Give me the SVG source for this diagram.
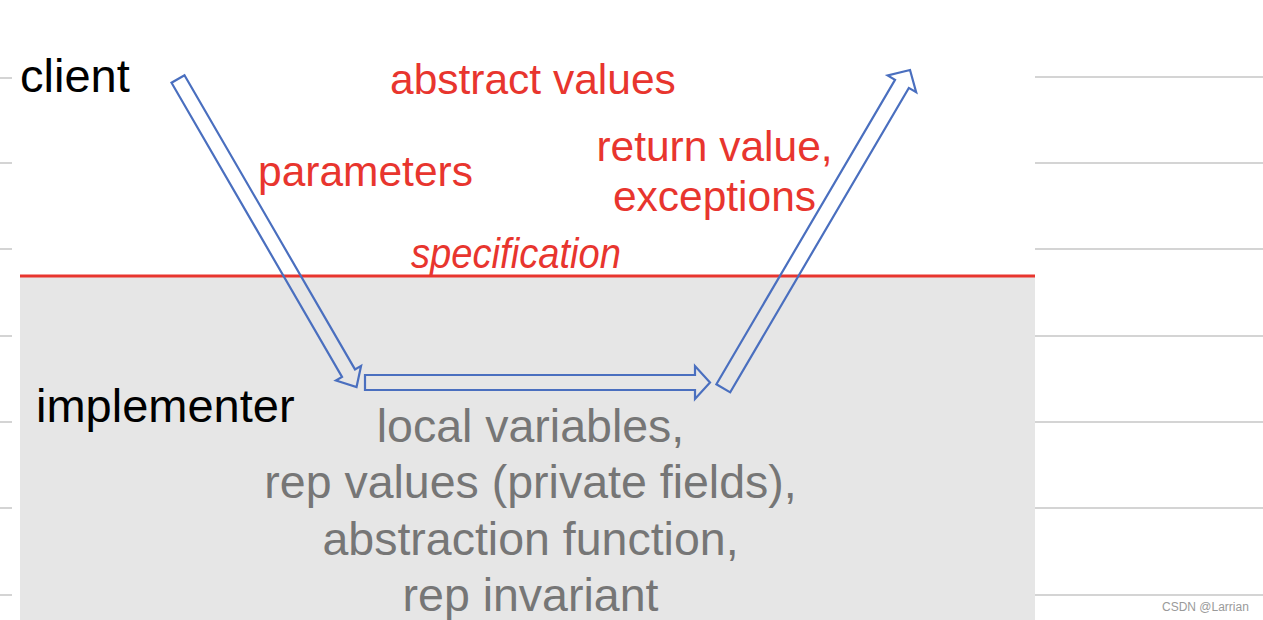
<svg xmlns="http://www.w3.org/2000/svg" width="1263" height="620" viewBox="0 0 1263 620">
  <style>
    .guide { stroke: #d4d4d4; stroke-width: 2; }
    .blk { font-family: "Liberation Sans", Arial, sans-serif; fill: #000; font-size: 47px; }
    .red { font-family: "Liberation Sans", Arial, sans-serif; fill: #e8352e; font-size: 42.5px; }
    .gry { font-family: "Liberation Sans", Arial, sans-serif; fill: #767676; font-size: 46.5px; text-anchor: middle; }
    .arrow { fill: none; stroke: #4a6fbf; stroke-width: 2.2; stroke-linejoin: miter; }
  </style>
  <rect width="1263" height="620" fill="#ffffff"/>
  <g id="guides">
    <line class="guide" x1="1035" y1="77" x2="1263" y2="77"/>
    <line class="guide" x1="1035" y1="163" x2="1263" y2="163"/>
    <line class="guide" x1="1035" y1="249" x2="1263" y2="249"/>
    <line class="guide" x1="1035" y1="336" x2="1263" y2="336"/>
    <line class="guide" x1="1035" y1="422" x2="1263" y2="422"/>
    <line class="guide" x1="1035" y1="508" x2="1263" y2="508"/>
    <line class="guide" x1="1035" y1="595" x2="1263" y2="595"/>
    <line class="guide" x1="0" y1="78" x2="12" y2="78"/>
    <line class="guide" x1="0" y1="163" x2="12" y2="163"/>
    <line class="guide" x1="0" y1="249" x2="12" y2="249"/>
    <line class="guide" x1="0" y1="336" x2="12" y2="336"/>
    <line class="guide" x1="0" y1="422" x2="12" y2="422"/>
    <line class="guide" x1="0" y1="508" x2="12" y2="508"/>
    <line class="guide" x1="0" y1="595" x2="12" y2="595"/>
  </g>
  <g id="implementer-zone">
    <rect x="20" y="277" width="1015" height="343" fill="#e6e6e6"/>
    <line x1="20" y1="276" x2="1035" y2="276" stroke="#e8352e" stroke-width="3"/>
  </g>
  <g id="client-label"><text class="blk" x="20" y="92">client</text></g>
  <g id="implementer-label"><text class="blk" x="36" y="422">implementer</text></g>
  <g id="abstract-values"><text class="red" x="390" y="94">abstract values</text></g>
  <g id="parameters"><text class="red" x="258" y="186">parameters</text></g>
  <g id="return-value">
    <text class="red" x="714.5" y="161" text-anchor="middle">return value,</text>
    <text class="red" x="714.5" y="211" text-anchor="middle">exceptions</text>
  </g>
  <g id="specification"><text class="red" x="411" y="268" font-size="33" font-style="italic" textLength="210" lengthAdjust="spacingAndGlyphs">specification</text></g>
  <g id="internals">
    <text class="gry" x="530.5" y="442">local variables,</text>
    <text class="gry" x="530.5" y="498">rep values (private fields),</text>
    <text class="gry" x="530.5" y="555">abstraction function,</text>
    <text class="gry" x="530.5" y="611">rep invariant</text>
  </g>
  <g id="connectors">
    <path class="arrow" transform="translate(178,79) rotate(59.9)" d="M0,-7.5 L340,-7.5 L340,-14.5 L356,0 L340,14.5 L340,7.5 L0,7.5 Z"/>
    <path class="arrow" transform="translate(365,382.5)" d="M0,-7.5 L330,-7.5 L330,-16.5 L345,0 L330,16.5 L330,7.5 L0,7.5 Z"/>
    <path class="arrow" transform="translate(723.3,388.3) rotate(-59.6)" d="M0,-8 L353,-8 L353,-16.5 L369,0 L353,16.5 L353,8 L0,8 Z"/>
  </g>
  <g id="watermark"><text x="1162" y="611" font-family="'Liberation Sans', Arial, sans-serif" font-size="12" fill="#9a9a9a">CSDN @Larrian</text></g>
</svg>
